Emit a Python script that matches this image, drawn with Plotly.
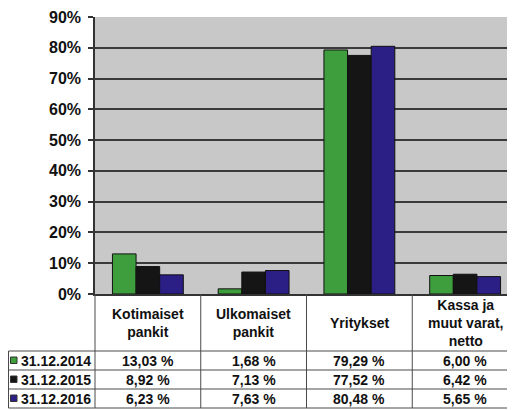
import plotly.graph_objects as go

categories = ["Kotimaiset pankit", "Ulkomaiset pankit", "Yritykset", "Kassa ja muut varat, netto"]
header_labels = ["Kotimaiset<br>pankit", "Ulkomaiset<br>pankit", "Yritykset", "Kassa ja<br>muut varat,<br>netto"]
series_names = ["31.12.2014", "31.12.2015", "31.12.2016"]
values_2014 = [13.03, 1.68, 79.29, 6.00]
values_2015 = [8.92, 7.13, 77.52, 6.42]
values_2016 = [6.23, 7.63, 80.48, 5.65]
series_values = [values_2014, values_2015, values_2016]
colors = ["#3e9e3e", "#151515", "#2b1f86"]
y_ticks = [0, 10, 20, 30, 40, 50, 60, 70, 80, 90]

# the page body has an 8px margin; the figure is drawn at (8, 8)
OFF = 8
W, H = 515 - OFF, 410 - OFF
L, R, T, B = 95 - OFF, 0, 17 - OFF, 116
plot_w = W - L - R
plot_h = H - T - B
y0_px = H - B
cat_px = 105.75
x_range = [-0.5, -0.5 + plot_w / cat_px]

FONT = "Liberation Sans, Arial, sans-serif"


def px(xp):
    return (xp - OFF - L) / plot_w


def py(yp):
    return (y0_px - (yp - OFF)) / plot_h


fig = go.Figure()
for name, vals, col in zip(series_names, series_values, colors):
    fig.add_trace(go.Bar(
        x=list(range(len(categories))), y=vals, name=name,
        marker=dict(color=col, line=dict(color="#111111", width=1)),
        showlegend=False,
    ))

shapes = []
line_col = "#4a4a4a"
# table geometry in reference pixels
axis_bottom = 294
header_bottom = 351
row_h = 19
rows_y = [header_bottom + i * row_h for i in range(4)]
left_col = 8.5
bounds = [-0.5 + i for i in range(len(categories) + 1)]
for b in bounds:
    xp = 95 + (b - x_range[0]) * cat_px
    if xp > 515:
        continue
    shapes.append(dict(type="line", xref="paper", yref="paper", x0=px(xp), x1=px(xp),
                       y0=py(axis_bottom), y1=py(rows_y[-1]), line=dict(color=line_col, width=1)))
shapes.append(dict(type="line", xref="paper", yref="paper", x0=px(left_col), x1=px(left_col),
                   y0=py(rows_y[0]), y1=py(rows_y[-1]), line=dict(color=line_col, width=1)))
for yy in rows_y:
    shapes.append(dict(type="line", xref="paper", yref="paper", x0=px(left_col), x1=1,
                       y0=py(yy), y1=py(yy), line=dict(color=line_col, width=1)))

annotations = []
for i, hl in enumerate(header_labels):
    annotations.append(dict(x=i, xref="x", y=py((axis_bottom + header_bottom) / 2), yref="paper",
                            text=f"<b>{hl}</b>", showarrow=False, xanchor="center", yanchor="middle",
                            font=dict(family=FONT, size=14, color="#111111")))
for r, (name, vals, col) in enumerate(zip(series_names, series_values, colors)):
    yc = rows_y[r] + row_h / 2
    shapes.append(dict(type="rect", xref="paper", yref="paper", x0=px(10.5), x1=px(17),
                       y0=py(yc - 3.5), y1=py(yc + 3), fillcolor=col,
                       line=dict(color="#333333", width=1)))
    annotations.append(dict(x=px(19), xref="paper", y=py(yc), yref="paper",
                            text=f"<b>{name}</b>", showarrow=False, xanchor="left", yanchor="middle",
                            font=dict(family=FONT, size=14, color="#111111")))
    for i, v in enumerate(vals):
        txt = f"{v:.2f}".replace(".", ",") + " %"
        annotations.append(dict(x=i, xref="x", y=py(yc), yref="paper",
                                text=f"<b>{txt}</b>", showarrow=False, xanchor="center", yanchor="middle",
                                font=dict(family=FONT, size=14, color="#111111")))

fig.update_layout(
    width=W, height=H,
    margin=dict(l=L, r=R, t=T, b=B, pad=0),
    paper_bgcolor="white",
    plot_bgcolor="#c8c8c8",
    barmode="group",
    bargap=0.33,
    bargroupgap=0,
    shapes=shapes,
    annotations=annotations,
    xaxis=dict(range=x_range, showticklabels=False, showgrid=False, zeroline=False,
               showline=True, linecolor="#333333", linewidth=1.5, ticks=""),
    yaxis=dict(range=[0, 90], tickvals=y_ticks, ticktext=[f"{t}%" for t in y_ticks],
               showgrid=True, gridcolor="#3a3a3a", gridwidth=1.5, zeroline=False,
               showline=True, linecolor="#333333", linewidth=1.5,
               ticks="outside", ticklen=5, tickcolor="#333333", tickwidth=1.5,
               ticklabelstandoff=4,
               tickfont=dict(family=FONT, size=16, color="#111111", weight="bold")),
)

fig.write_html("out.html")
